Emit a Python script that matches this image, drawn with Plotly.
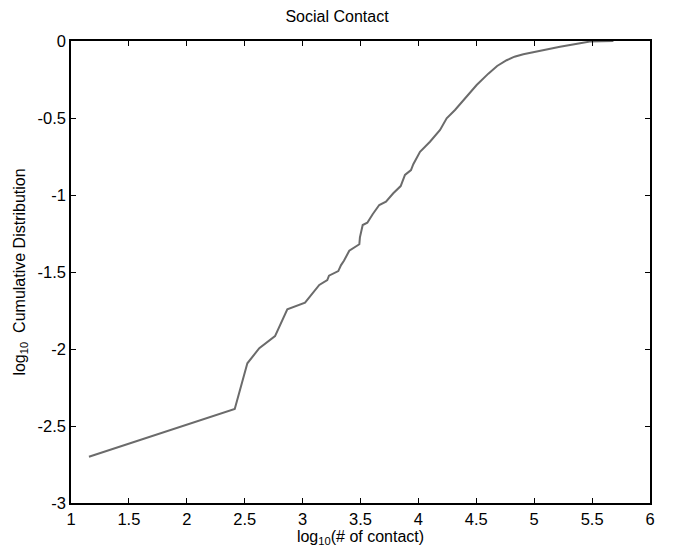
import plotly.graph_objects as go

# log10 of contact count vs log10 of the cumulative distribution
log_contacts = [1.155, 2.414, 2.523, 2.626, 2.762, 2.828, 2.868, 3.021, 3.078, 3.144,
                3.213, 3.228, 3.308, 3.332, 3.357, 3.403, 3.49, 3.495, 3.519, 3.559,
                3.605, 3.662, 3.72, 3.783, 3.847, 3.884, 3.936, 3.956, 4.014, 4.10,
                4.187, 4.244, 4.316, 4.411, 4.503, 4.604, 4.68, 4.762, 4.83, 4.906,
                5.05, 5.223, 5.396, 5.48, 5.684]
log_cum_dist = [-2.70, -2.39, -2.093, -1.995, -1.916, -1.81, -1.742, -1.699, -1.649, -1.584,
                -1.552, -1.524, -1.494, -1.455, -1.427, -1.362, -1.32, -1.275, -1.195, -1.18,
                -1.125, -1.065, -1.043, -0.989, -0.942, -0.870, -0.838, -0.80, -0.719, -0.654,
                -0.578, -0.502, -0.448, -0.362, -0.286, -0.212, -0.162, -0.125, -0.102, -0.086,
                -0.063, -0.037, -0.015, -0.004, 0.0]

x_ticks = [1, 1.5, 2, 2.5, 3, 3.5, 4, 4.5, 5, 5.5, 6]
x_tick_labels = ["1", "1.5", "2", "2.5", "3", "3.5", "4", "4.5", "5", "5.5", "6"]
y_ticks = [0, -0.5, -1, -1.5, -2, -2.5, -3]
y_tick_labels = ["0", "-0.5", "-1", "-1.5", "-2", "-2.5", "-3"]

font_family = "Liberation Sans, Arial, sans-serif"

fig = go.Figure()
fig.add_trace(go.Scatter(
    x=log_contacts, y=log_cum_dist, mode="lines",
    line=dict(color="#6b6b6b", width=2),
    showlegend=False,
))

axis_common = dict(
    showgrid=False, zeroline=False,
    showline=True, linecolor="black", linewidth=1.5, mirror="ticks",
    ticks="inside", ticklen=5, tickwidth=1, tickcolor="black",
    tickfont=dict(family=font_family, size=16.5, color="black"),
)

fig.update_xaxes(
    range=[1, 6], tickvals=x_ticks, ticktext=x_tick_labels,
    title=dict(text="log<sub>10</sub>(# of contact)", standoff=3,
               font=dict(family=font_family, size=16, color="black")),
    **axis_common,
)
fig.update_yaxes(
    range=[-3, 0], tickvals=y_ticks, ticktext=y_tick_labels,
    title=dict(text="log<sub>10</sub>  Cumulative Distribution", standoff=8,
               font=dict(family=font_family, size=16, color="black")),
    **axis_common,
)

fig.update_layout(
    width=674, height=556,
    margin=dict(l=71, r=24, t=41, b=53),
    paper_bgcolor="white", plot_bgcolor="white",
    title=dict(text="Social Contact", x=0.5, xanchor="center",
               y=1 - 16 / 556, yanchor="middle", yref="container",
               font=dict(family=font_family, size=16, color="black")),
)

fig.write_html("out.html")
